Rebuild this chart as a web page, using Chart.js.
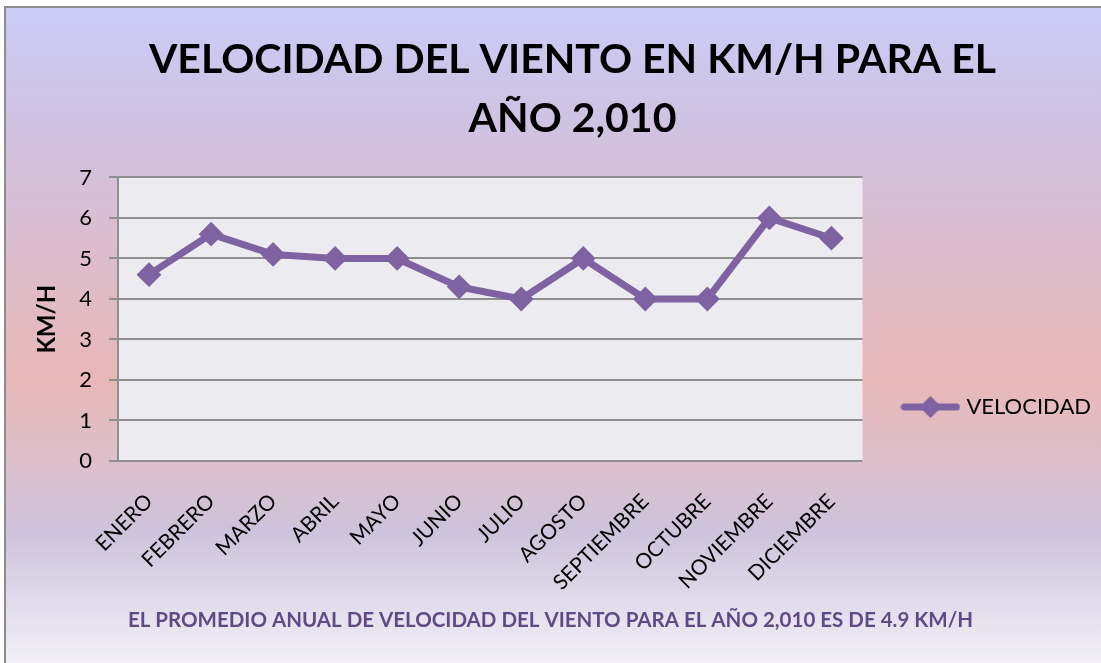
<!DOCTYPE html>
<html>
<head>
<meta charset="utf-8">
<script src="https://cdn.jsdelivr.net/npm/chart.js@4/dist/chart.umd.min.js"></script>
<style>
html,body{margin:0;padding:0;background:#ffffff;}
#wrap{width:1101px;height:663px;position:relative;}
</style>
</head>
<body>
<div id="wrap"><canvas id="c" width="1101" height="663"></canvas></div>
<script>
const categories = ["ENERO","FEBRERO","MARZO","ABRIL","MAYO","JUNIO","JULIO","AGOSTO","SEPTIEMBRE","OCTUBRE","NOVIEMBRE","DICIEMBRE"];
const velocidad = [4.6, 5.6, 5.1, 5.0, 5.0, 4.3, 4.0, 5.0, 4.0, 4.0, 6.0, 5.5];
const seriesName = "VELOCIDAD";
const titleLines = ["VELOCIDAD DEL VIENTO EN KM/H PARA EL", "AÑO 2,010"];
const yAxisTitle = "KM/H";
const yTicks = [0, 1, 2, 3, 4, 5, 6, 7];
const footnote = "EL PROMEDIO ANUAL DE VELOCIDAD DEL VIENTO PARA EL AÑO 2,010 ES DE 4.9 KM/H";

const LINE = '#7e62a1';
const FONT = 'Lato';

function makeLegendImage() {
  const cv = document.createElement('canvas');
  cv.width = 60; cv.height = 26;
  const g = cv.getContext('2d');
  g.strokeStyle = LINE; g.lineWidth = 7; g.lineCap = 'round';
  g.beginPath(); g.moveTo(4, 13); g.lineTo(56, 13); g.stroke();
  g.fillStyle = LINE;
  g.beginPath(); g.moveTo(30, 2); g.lineTo(41, 13); g.lineTo(30, 24); g.lineTo(19, 13); g.closePath(); g.fill();
  return cv;
}

const bgPlugin = {
  id: 'bg',
  afterLayout(chart) {
    if (chart.titleBlock) { chart.titleBlock.left = 44; chart.titleBlock.right = chart.width; }
  },
  beforeDraw(chart) {
    const ctx = chart.ctx, a = chart.chartArea;
    ctx.save();
    ctx.fillStyle = '#ffffff';
    ctx.fillRect(0, 0, chart.width, chart.height);
    const gr = ctx.createLinearGradient(0, 7, 0, 663);
    gr.addColorStop(0.00, '#cbcbf7');
    gr.addColorStop(0.17, '#cfc3e3');
    gr.addColorStop(0.37, '#dcbdcd');
    gr.addColorStop(0.57, '#e8b8b8');
    gr.addColorStop(0.70, '#dcc0cc');
    gr.addColorStop(0.80, '#cdc3dc');
    gr.addColorStop(1.00, '#f2f0f6');
    ctx.fillStyle = gr;
    ctx.fillRect(5, 8, chart.width - 5, chart.height - 8);
    ctx.strokeStyle = '#8c8c8c';
    ctx.lineWidth = 2;
    ctx.beginPath();
    ctx.moveTo(5, chart.height);
    ctx.lineTo(5, 7);
    ctx.lineTo(chart.width, 7);
    ctx.stroke();
    ctx.fillStyle = '#ecebf0';
    ctx.fillRect(a.left, a.top, a.right - a.left, a.bottom - a.top);
    ctx.restore();
  }
};

function build() {
  const legendImg = makeLegendImage();
  new Chart(document.getElementById('c'), {
    type: 'line',
    data: {
      labels: categories,
      datasets: [{
        label: seriesName,
        data: velocidad,
        borderColor: LINE,
        backgroundColor: LINE,
        borderWidth: 7,
        tension: 0,
        pointStyle: 'rectRot',
        pointRadius: 11,
        pointBorderWidth: 2,
        pointBackgroundColor: LINE,
        pointBorderColor: LINE
      }]
    },
    options: {
      responsive: false,
      devicePixelRatio: 1,
      animation: false,
      layout: { padding: 0 },
      plugins: {
        title: {
          display: true,
          text: titleLines,
          color: '#000000',
          font: { family: FONT, size: 41, weight: 'bold', lineHeight: 1.42 },
          padding: { top: 31, bottom: 30 }
        },
        subtitle: {
          display: true,
          position: 'bottom',
          text: footnote,
          color: '#5e4a87',
          font: { family: FONT, size: 20.5, weight: 'bold', lineHeight: 1.2 },
          padding: { top: 8, bottom: 30 }
        },
        legend: {
          display: true,
          position: 'right',
          align: 'end',
          fullSize: false,
          labels: {
            color: '#000000',
            font: { family: FONT, size: 22 },
            usePointStyle: true,
            pointStyleWidth: 50,
            padding: 43,
            generateLabels(chart) {
              const items = Chart.defaults.plugins.legend.labels.generateLabels(chart);
              items.forEach(it => { it.pointStyle = legendImg; });
              return items;
            }
          }
        },
        tooltip: { enabled: false }
      },
      scales: {
        x: {
          type: 'category',
          offset: true,
          grid: { display: false, drawTicks: false },
          border: { display: false },
          ticks: {
            color: '#000000',
            font: { family: FONT, size: 21 },
            minRotation: 45,
            maxRotation: 45,
            padding: 28,
            autoSkip: false
          },
          afterFit(scale) { scale.height = 139.4; }
        },
        y: {
          min: 0,
          max: 7,
          afterBuildTicks(scale) { scale.ticks = yTicks.map(v => ({ value: v })); },
          grid: { color: '#8f8f8f', lineWidth: 2, tickLength: 9, drawTicks: true, tickColor: '#8f8f8f' },
          border: { display: true, color: '#8f8f8f', width: 2 },
          ticks: {
            color: '#000000',
            font: { family: FONT, size: 22 },
            padding: 17
          },
          title: {
            display: true,
            text: yAxisTitle,
            color: '#000000',
            font: { family: FONT, size: 24, weight: 'bold', lineHeight: 1.2 },
            padding: { top: 33, bottom: 0 }
          },
          afterFit(scale) { scale.width = 118; }
        }
      }
    },
    plugins: [bgPlugin]
  });
}

const fontLoads = [
  document.fonts.load('bold 40px Lato'),
  document.fonts.load('22px Lato'),
  document.fonts.load('bold 18px Lato')
];
Promise.all(fontLoads).then(build, build);
</script>
</body>
</html>
